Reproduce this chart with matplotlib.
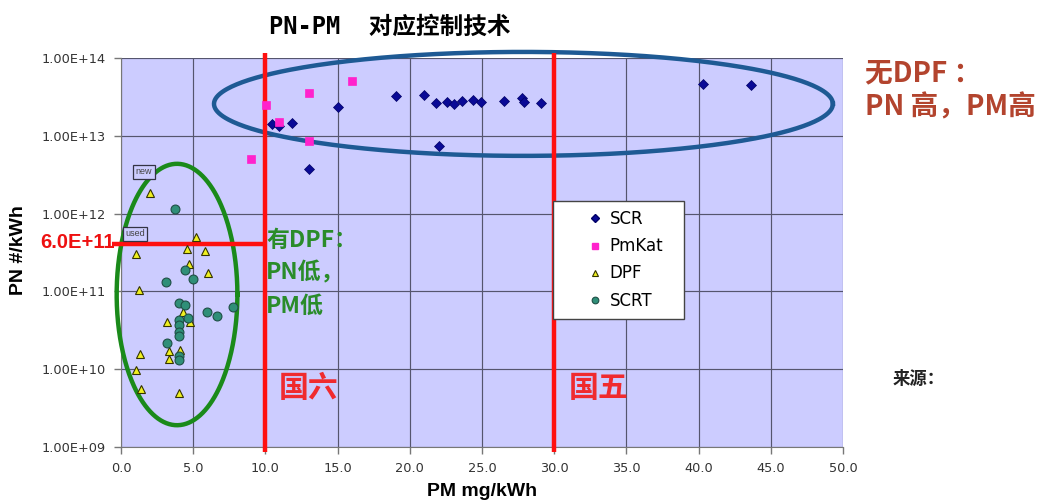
import numpy as np
import matplotlib
matplotlib.use("Agg")
import matplotlib.pyplot as plt
from matplotlib.lines import Line2D
from matplotlib.patches import Rectangle
import matplotlib.transforms as mtransforms

# ---------------- data ----------------
scr_pm = [10.46, 10.96, 11.84, 15.0, 19.04, 20.98, 21.8, 22.55, 23.08, 23.6,
          24.4, 24.9, 26.5, 27.8, 27.9, 29.07, 22.0, 13.0, 40.3, 43.6]
scr_pn = [1.41e13, 1.32e13, 1.45e13, 2.34e13, 3.24e13, 3.39e13, 2.63e13, 2.69e13,
          2.57e13, 2.82e13, 2.88e13, 2.69e13, 2.82e13, 3.09e13, 2.69e13, 2.63e13,
          7.4e12, 3.7e12, 4.68e13, 4.47e13]

pmkat_pm = [10.02, 10.96, 13.04, 16.0, 13.02, 8.98]
pmkat_pn = [2.5e13, 1.5e13, 3.5e13, 5.0e13, 8.7e12, 5.1e12]

dpf_pm = [2.0, 5.19, 4.59, 5.84, 1.04, 4.69, 6.02, 1.27, 4.27, 3.2, 4.78,
          1.32, 3.3, 4.09, 3.3, 1.04, 1.36, 4.04]
dpf_pn = [1.86e12, 5.0e11, 3.55e11, 3.3e11, 3.0e11, 2.24e11, 1.7e11, 1.05e11,
          5.5e10, 4.0e10, 4.0e10, 1.55e10, 1.7e10, 1.74e10, 1.35e10, 9.8e9,
          5.6e9, 5.0e9]

scrt_pm = [3.76, 4.45, 5.0, 3.12, 4.04, 4.45, 4.04, 4.64, 4.04, 4.04, 4.04,
           5.98, 6.67, 7.73, 3.2, 4.04, 4.04]
scrt_pn = [1.15e12, 1.86e11, 1.45e11, 1.32e11, 7.1e10, 6.6e10, 4.3e10, 4.5e10,
           3.7e10, 3.0e10, 2.7e10, 5.4e10, 4.8e10, 6.3e10, 2.2e10, 1.5e10, 1.3e10]

series_names = ["SCR", "PmKat", "DPF", "SCRT"]

x_ticks = [0, 5, 10, 15, 20, 25, 30, 35, 40, 45, 50]
x_tick_labels = ["0.0", "5.0", "10.0", "15.0", "20.0", "25.0", "30.0",
                 "35.0", "40.0", "45.0", "50.0"]
y_ticks = [1e9, 1e10, 1e11, 1e12, 1e13, 1e14]
y_tick_labels = ["1.00E+09", "1.00E+10", "1.00E+11", "1.00E+12",
                 "1.00E+13", "1.00E+14"]

limit_pm_gb6 = 10.0       # 国六
limit_pm_gb5 = 30.0       # 国五
limit_pn_drawn = 4.1e11   # red horizontal line as drawn
limit_pn_label = "6.0E+11"

# ellipses: centre PM, centre log10(PN), half width PM, half height decades
dpf_ell = (3.88, 10.96, 4.18, 1.68)
scr_ell = (27.87, 13.41, 21.43, 0.668)

# ---------------- figure ----------------
W, H = 1043, 500
fig = plt.figure(figsize=(W / 100, H / 100), dpi=100)
fig.patch.set_facecolor("white")

def px(x, y):
    return x / W, 1 - y / H

L, R, T, B = 121, 843, 58, 447
ax = fig.add_axes([L / W, 1 - B / H, (R - L) / W, (B - T) / H])
ax.set_facecolor("#CCCCFF")
ax.set_yscale("log")
ax.set_xlim(0, 50)
ax.set_ylim(1e9, 1e14)

ax.set_xticks(x_ticks)
ax.set_xticklabels(x_tick_labels)
ax.set_yticks(y_ticks)
ax.set_yticklabels(y_tick_labels)
ax.yaxis.set_minor_locator(matplotlib.ticker.NullLocator())
for lab in ax.get_xticklabels() + ax.get_yticklabels():
    lab.set_fontfamily("DejaVu Sans")
    lab.set_fontsize(9.3)
    lab.set_color("#333333")
ax.tick_params(axis="both", direction="out", length=5, width=1, color="#777777")
ax.tick_params(axis="y", pad=6)
ax.tick_params(axis="x", pad=6)

ax.grid(True, which="major", color="#55556e", linewidth=0.85)
ax.set_axisbelow(True)
for s in ["top", "right"]:
    ax.spines[s].set_visible(False)
for s in ["left", "bottom"]:
    ax.spines[s].set_color("#777777")

# ellipses
t = np.linspace(0, 2 * np.pi, 400)
cx, cy, a, b = dpf_ell
ax.plot(cx + a * np.cos(t), 10 ** (cy + b * np.sin(t)), color="#1a8a1a", lw=3.2,
        clip_on=False, zorder=3)
cx, cy, a, b = scr_ell
ax.plot(cx + a * np.cos(t), 10 ** (cy + b * np.sin(t)), color="#1e5a94", lw=3.2,
        clip_on=False, zorder=3)

# red limit lines
trans = mtransforms.blended_transform_factory(ax.transData, ax.transAxes)
for xv in (limit_pm_gb6, limit_pm_gb5):
    ax.plot([xv, xv], [-0.014, 1.012], color="#FF1010", lw=3.2, transform=trans,
            clip_on=False, zorder=4, solid_capstyle="butt")
ax.plot([-0.6, limit_pm_gb6], [limit_pn_drawn, limit_pn_drawn], color="#FF1010",
        lw=3.2, clip_on=False, zorder=4, solid_capstyle="butt")

# scatter series
ax.plot(scr_pm, scr_pn, ls="none", marker="D", ms=5.0, mfc="#0a0a96", mec="#000066",
        mew=0.5, zorder=5, label=series_names[0])
ax.plot(pmkat_pm, pmkat_pn, ls="none", marker="s", ms=5.8, mfc="#FF22CC", mec="#FF22CC",
        mew=0.5, zorder=5, label=series_names[1])
ax.plot(dpf_pm, dpf_pn, ls="none", marker="^", ms=6.2, mfc="#F0F020", mec="#333300",
        mew=0.8, zorder=5, label=series_names[2])
ax.plot(scrt_pm, scrt_pn, ls="none", marker="o", ms=6.4, mfc="#2f8f78", mec="#1f4f46",
        mew=0.8, zorder=5, label=series_names[3])

# legend: frame box + frameless legend inside
fig.patches.append(Rectangle(px(553, 319), (684 - 553) / W, (319 - 201) / H,
                             transform=fig.transFigure, fc="white", ec="#444444",
                             lw=1.0, zorder=6))
handles = [
    Line2D([], [], ls="none", marker="D", ms=3.8, mfc="#0a0a96", mec="#000066"),
    Line2D([], [], ls="none", marker="s", ms=4.8, mfc="#FF22CC", mec="#FF22CC"),
    Line2D([], [], ls="none", marker="^", ms=4.8, mfc="#F0F020", mec="#333300", mew=0.8),
    Line2D([], [], ls="none", marker="o", ms=4.8, mfc="#2f8f78", mec="#1f4f46", mew=0.8),
]
leg = fig.legend(handles, series_names, loc="upper left",
                 bbox_to_anchor=px(577, 201),
                 prop={"family": "DejaVu Sans", "size": 12},
                 frameon=False, borderaxespad=0,
                 borderpad=0.55, labelspacing=0.55, handlelength=1.0,
                 handletextpad=0.4)
leg.set_zorder(7)

# axis labels
fig.text(*px(482, 491), "PM mg/kWh", ha="center", va="center",
         fontsize=14, fontweight="bold", family="Liberation Sans")
fig.text(*px(19, 250), "PN #/kWh", ha="center", va="center", rotation=90,
         fontsize=14, fontweight="bold", family="Liberation Sans")

cjk = ["Noto Sans CJK SC", "DejaVu Sans"]
mono_cjk = ["DejaVu Sans Mono", "Noto Sans CJK SC"]
# title
fig.text(*px(390, 27), "PN-PM  对应控制技术", ha="center", va="center",
         fontsize=17, fontweight="bold", family=mono_cjk, color="black")
# annotations
red_brown = "#B3442E"
fig.text(*px(865, 73), "无DPF ：", ha="left", va="center", fontsize=20,
         family=cjk, color=red_brown, fontweight="bold")
fig.text(*px(865, 107), "PN 高，PM高", ha="left", va="center", fontsize=20,
         family=cjk, color=red_brown, fontweight="bold")

green = "#2a8c2a"
fig.text(*px(266, 240), "有DPF：", ha="left", va="center", fontsize=16.5,
         family=cjk, color=green, fontweight="bold")
fig.text(*px(266, 273), "PN低，", ha="left", va="center", fontsize=16.5,
         family=cjk, color=green, fontweight="bold")
fig.text(*px(266, 306), "PM低", ha="left", va="center", fontsize=16.5,
         family=cjk, color=green, fontweight="bold")

fig.text(*px(279, 388), "国六", ha="left", va="center", fontsize=21.5,
         family=cjk, color="#F02A2E", fontweight="bold")
fig.text(*px(569, 388), "国五", ha="left", va="center", fontsize=21.5,
         family=cjk, color="#F02A2E", fontweight="bold")

fig.text(*px(115, 242), limit_pn_label, ha="right", va="center", fontsize=14.5,
         family="Liberation Sans", color="#EE1111", fontweight="bold")

fig.text(*px(893, 379), "来源：", ha="left", va="center", fontsize=12.5,
         family=cjk, color="#222222", fontweight="bold")

# small "new" / "used" tags
fig.text(*px(144, 172), "new", ha="center", va="center", fontsize=6.5,
         family="Liberation Sans", color="#444444",
         bbox=dict(boxstyle="square,pad=0.25", fc="#CCCCFF", ec="#333344", lw=0.9),
         zorder=2)
fig.text(*px(135, 234), "used", ha="center", va="center", fontsize=6.5,
         family="Liberation Sans", color="#444444",
         bbox=dict(boxstyle="square,pad=0.25", fc="#CCCCFF", ec="#333344", lw=0.9),
         zorder=2)

fig.savefig("out.png", dpi=100, facecolor="white")
